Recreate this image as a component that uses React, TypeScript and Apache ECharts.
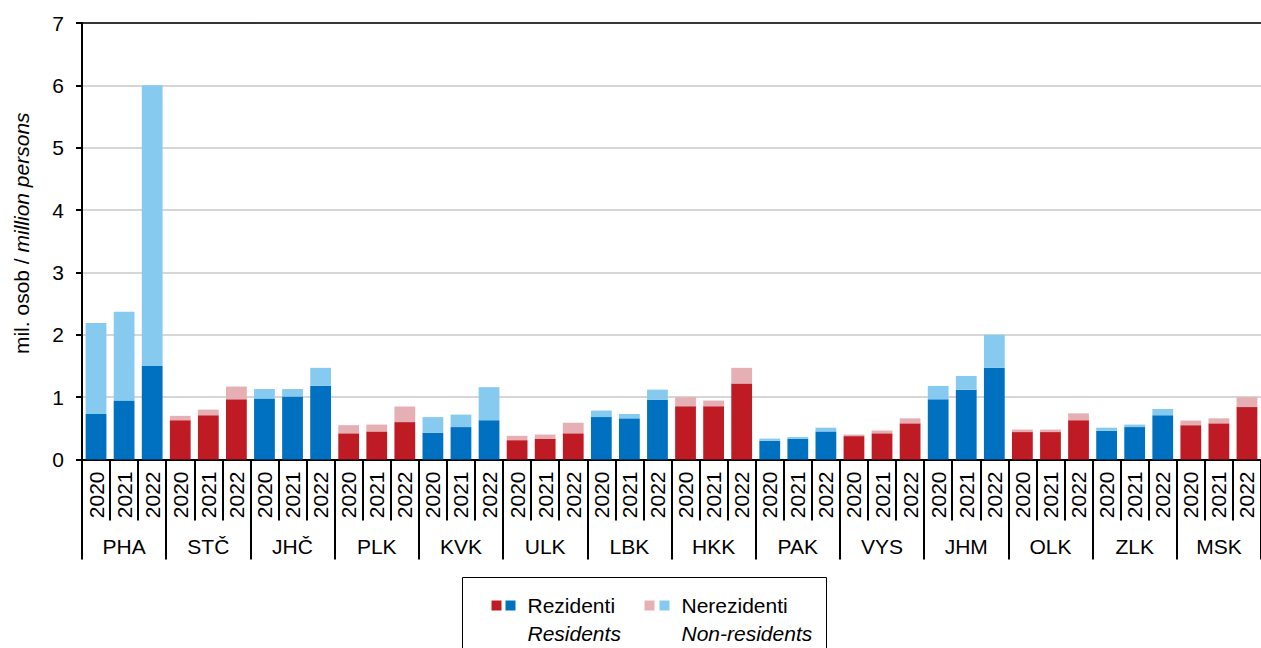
import React, { useEffect, useRef } from "react";
import * as echarts from "echarts";

const regions = ["PHA", "STČ", "JHČ", "PLK", "KVK", "ULK", "LBK", "HKK", "PAK", "VYS", "JHM", "OLK", "ZLK", "MSK"];
const years = ["2020", "2021", "2022"];

// mil. osob / million persons, 3 years per region in the order of `regions`
const residents = [
  0.73, 0.945, 1.5,
  0.63, 0.71, 0.965,
  0.98, 1.01, 1.18,
  0.42, 0.45, 0.6,
  0.43, 0.52, 0.63,
  0.31, 0.33, 0.42,
  0.68, 0.66, 0.955,
  0.855, 0.855, 1.22,
  0.3, 0.33, 0.45,
  0.375, 0.42, 0.58,
  0.965, 1.12, 1.47,
  0.44, 0.44, 0.63,
  0.46, 0.52, 0.71,
  0.55, 0.58, 0.84,
];
const nonResidents = [
  1.46, 1.425, 4.5,
  0.07, 0.09, 0.205,
  0.15, 0.12, 0.29,
  0.13, 0.11, 0.25,
  0.25, 0.2, 0.53,
  0.07, 0.07, 0.17,
  0.105, 0.07, 0.165,
  0.145, 0.09, 0.25,
  0.035, 0.03, 0.06,
  0.025, 0.045, 0.08,
  0.215, 0.22, 0.53,
  0.04, 0.04, 0.11,
  0.05, 0.04, 0.1,
  0.075, 0.08, 0.16,
];
const yTicks = { min: 0, max: 7, interval: 1 };

const BLUE = "#0070C0";
const RED = "#BE1B24";
const LIGHT_BLUE = "#87CAF0";
const PINK = "#E6AFB3";
const FONT = "Liberation Sans, Arial, sans-serif";
const FS = 21;

const categories = regions.flatMap((r) => years.map((y) => `${r} ${y}`));

export default function App() {
  const ref = useRef<HTMLDivElement>(null);
  useEffect(() => {
    if (!ref.current) return;
    const chart = echarts.init(ref.current, undefined, { renderer: "svg" });
    const isBlue = (i: number) => Math.floor(i / 3) % 2 === 0;
    chart.setOption({
      animation: false,
      textStyle: { fontFamily: FONT, color: "#000" },
      grid: { left: 82, right: -10, top: 23, bottom: 188.5, containLabel: false },
      xAxis: [
        {
          type: "category",
          data: categories,
          position: "bottom",
          axisLine: { show: true, lineStyle: { color: "#000", width: 2 } },
          axisTick: { show: true, interval: 0, length: 61, lineStyle: { color: "#000", width: 2 } },
          axisLabel: {
            interval: 0,
            rotate: 90,
            margin: 12,
            fontSize: FS,
            color: "#000",
            fontFamily: FONT,
            formatter: (v: string) => v.split(" ")[1],
          },
        },
        {
          type: "category",
          data: regions,
          position: "bottom",
          axisLine: { show: false },
          axisTick: { show: true, interval: 0, length: 100, lineStyle: { color: "#000", width: 2 } },
          axisLabel: { interval: 0, margin: 76, fontSize: FS, color: "#000", fontFamily: FONT },
        },
        {
          type: "category",
          data: regions,
          position: "top",
          axisLine: { show: true, lineStyle: { color: "#000", width: 1.5 } },
          axisTick: { show: false },
          axisLabel: { show: false },
        },
      ],
      yAxis: {
        type: "value",
        min: yTicks.min,
        max: yTicks.max,
        interval: yTicks.interval,
        name: "{a|mil. osob / }{b|million persons}",
        nameLocation: "middle",
        nameGap: 50,
        nameTextStyle: {
          padding: [0, 0, 0, 16],
          rich: {
            a: { fontSize: FS, fontFamily: FONT, color: "#000" },
            b: { fontSize: FS, fontFamily: FONT, fontStyle: "italic", color: "#000" },
          },
        },
        axisLine: { show: true, lineStyle: { color: "#000", width: 2 } },
        axisTick: { show: true, length: 6, lineStyle: { color: "#000", width: 2 } },
        axisLabel: { margin: 18, fontSize: FS, color: "#000", fontFamily: FONT },
        splitLine: { show: true, lineStyle: { color: "#c8c8c8", width: 1.5 } },
      },
      series: [
        {
          name: "Rezidenti",
          type: "bar",
          stack: "total",
          barCategoryGap: "26%",
          data: residents.map((v, i) => ({ value: v, itemStyle: { color: isBlue(i) ? BLUE : RED } })),
        },
        {
          name: "Nerezidenti",
          type: "bar",
          stack: "total",
          barCategoryGap: "26%",
          data: nonResidents.map((v, i) => ({ value: v, itemStyle: { color: isBlue(i) ? LIGHT_BLUE : PINK } })),
        },
      ],
      graphic: [
        {
          type: "group",
          left: 462,
          top: 577,
          children: [
            { type: "rect", shape: { x: 0, y: 0, width: 364, height: 90 }, style: { fill: "#fff", stroke: "#000", lineWidth: 1 } },
            { type: "rect", shape: { x: 29, y: 23, width: 10, height: 10 }, style: { fill: RED } },
            { type: "rect", shape: { x: 43, y: 23, width: 10, height: 10 }, style: { fill: BLUE } },
            { type: "text", x: 65, y: 17, style: { text: "Rezidenti", font: `${FS}px ${FONT}`, fill: "#000" } },
            { type: "text", x: 65, y: 45, style: { text: "Residents", font: `italic ${FS}px ${FONT}`, fill: "#000" } },
            { type: "rect", shape: { x: 182, y: 23, width: 10, height: 10 }, style: { fill: PINK } },
            { type: "rect", shape: { x: 197, y: 23, width: 10, height: 10 }, style: { fill: LIGHT_BLUE } },
            { type: "text", x: 219, y: 17, style: { text: "Nerezidenti", font: `${FS}px ${FONT}`, fill: "#000" } },
            { type: "text", x: 219, y: 45, style: { text: "Non-residents", font: `italic ${FS}px ${FONT}`, fill: "#000" } },
          ],
        },
      ],
    });
    return () => chart.dispose();
  }, []);
  return (
    <div
      ref={ref}
      style={{ position: "fixed", left: 0, top: 0, width: 1261, height: 648, background: "#fff" }}
    />
  );
}
